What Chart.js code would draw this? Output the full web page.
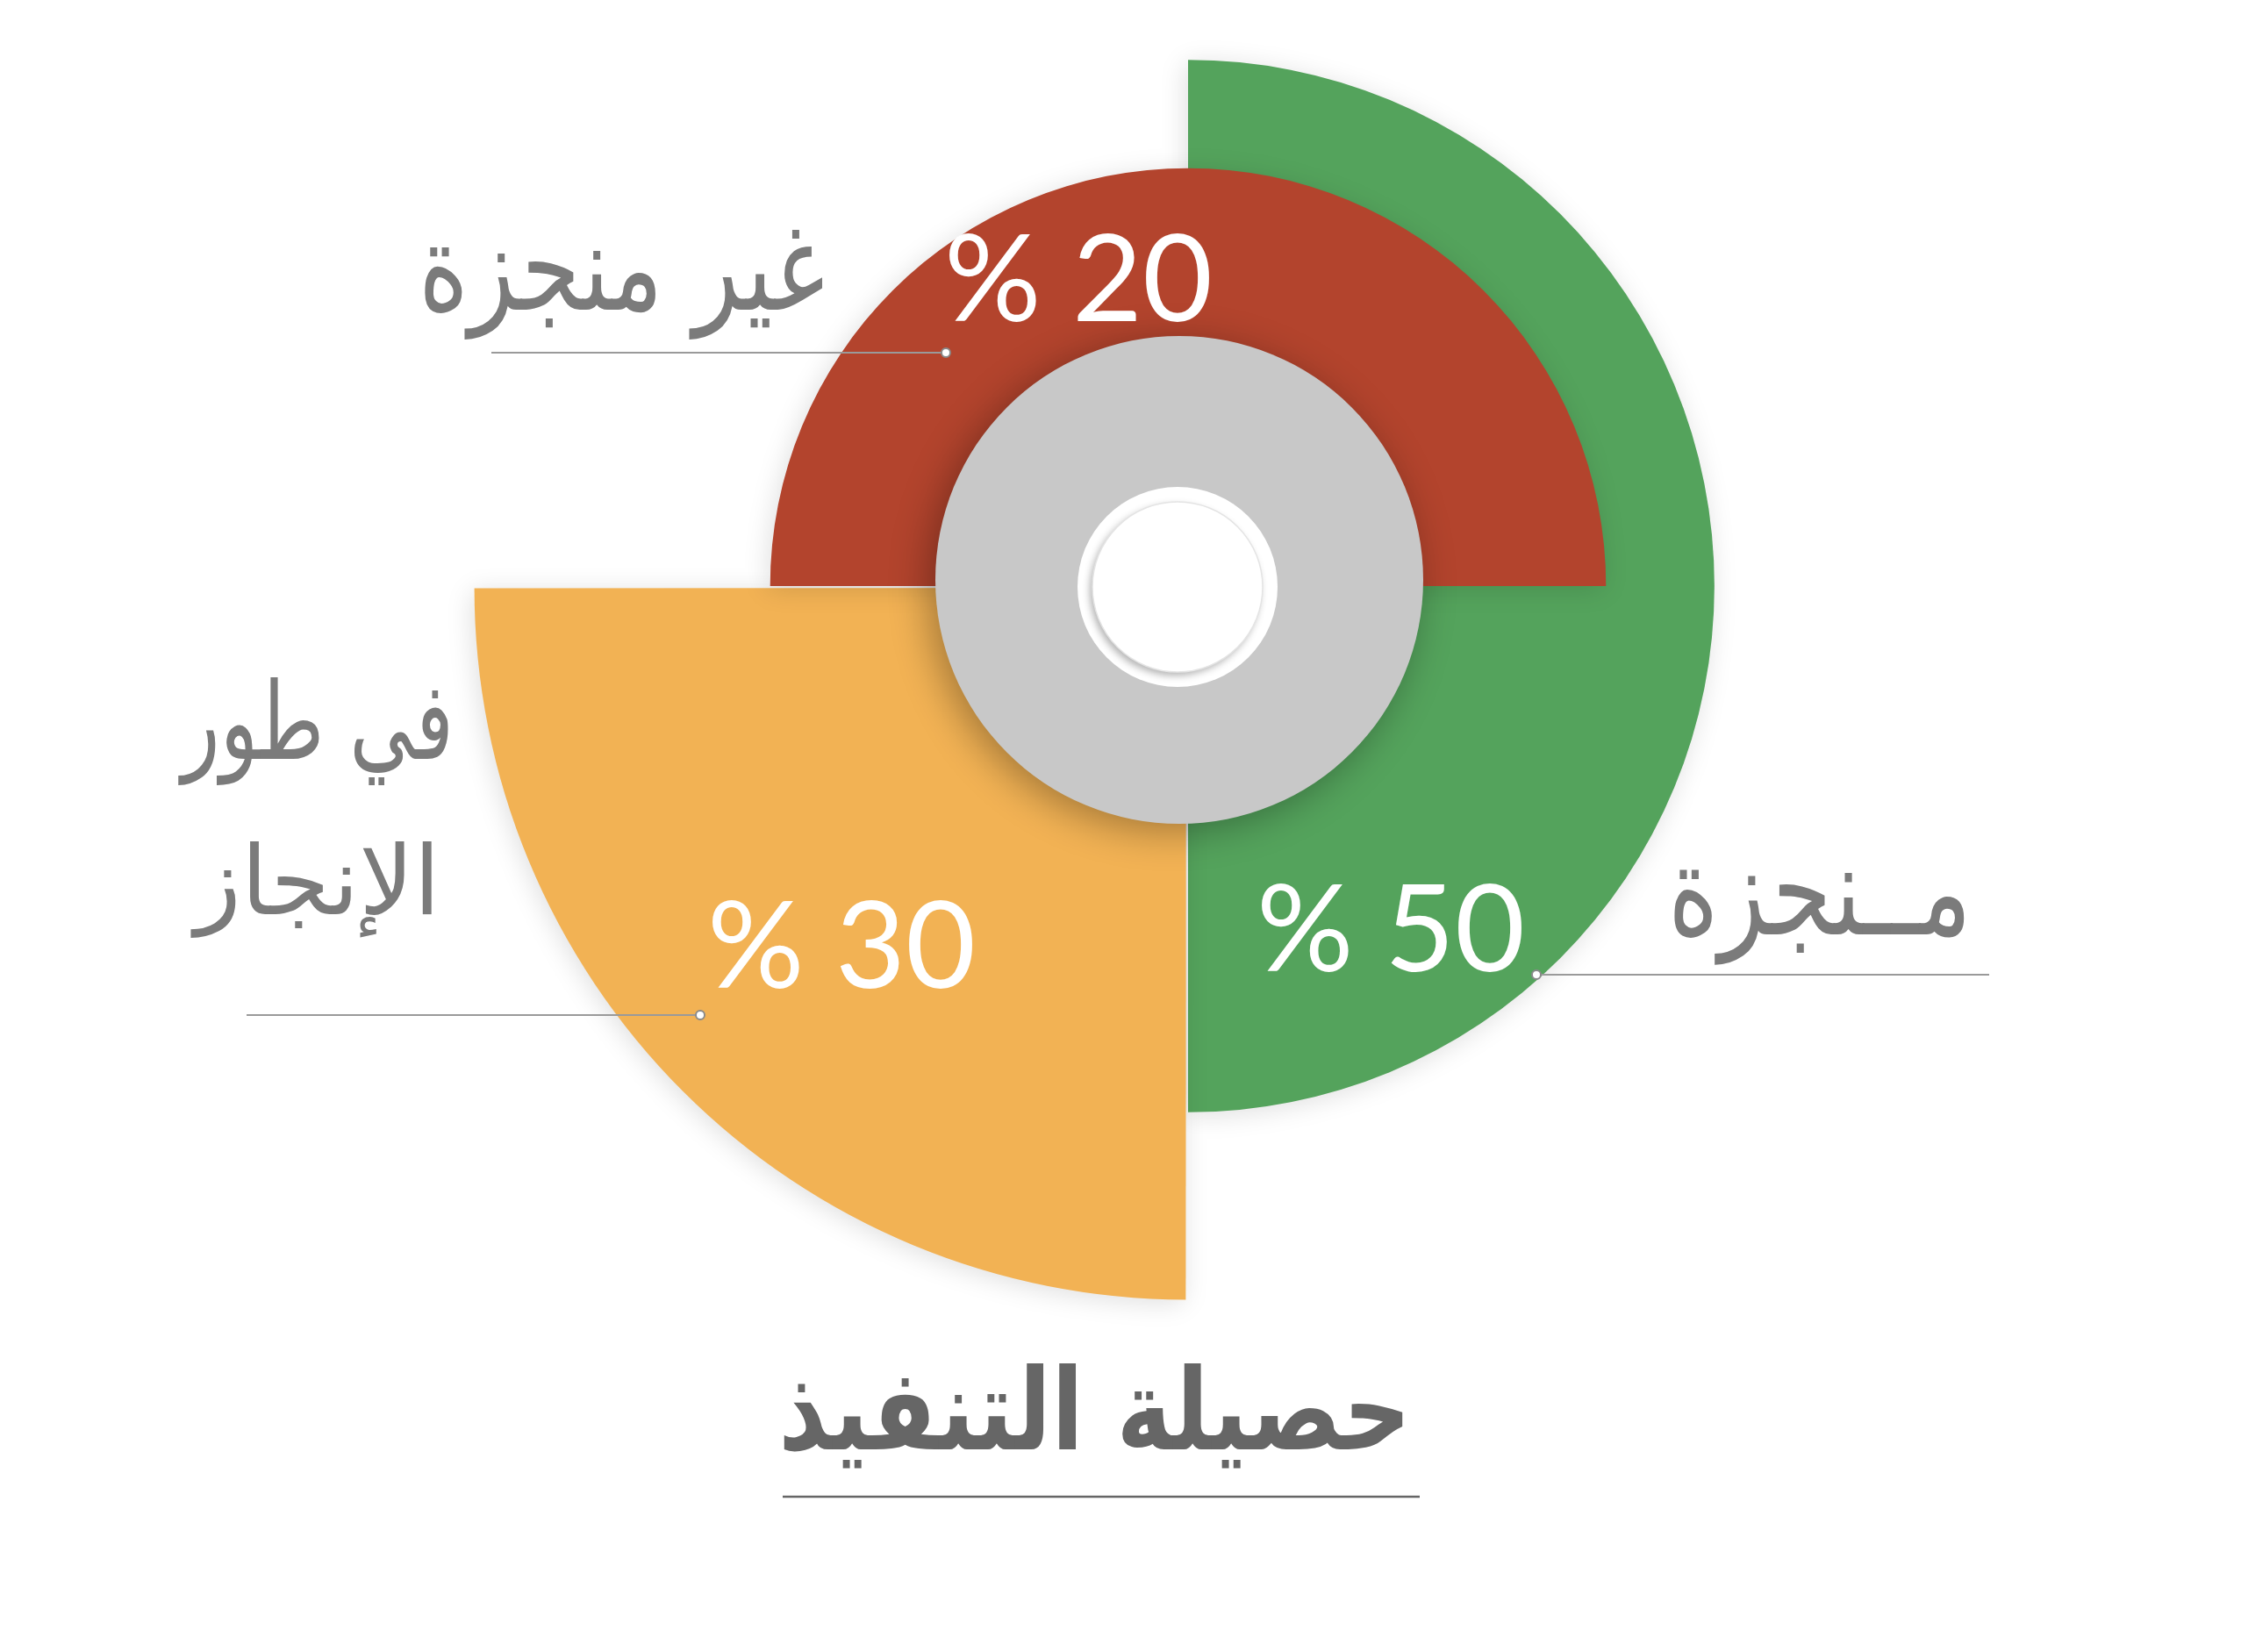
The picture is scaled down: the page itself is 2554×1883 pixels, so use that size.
<!DOCTYPE html>
<html lang="ar">
<head>
<meta charset="utf-8">
<title>حصيلة التنفيذ</title>
<script src="https://cdn.jsdelivr.net/npm/chart.js@4.4.1/dist/chart.umd.min.js"></script>
<style>
html,body{margin:0;padding:0;background:#fff;}
#wrap{position:relative;width:2554px;height:1883px;}
</style>
</head>
<body>
<div id="wrap"><canvas id="c"></canvas></div>
<script>
// ---- data ----
const categories = ['منجزة', 'في طور الإنجاز', 'غير منجزة'];
const categoryLines = [['مــنجزة'], ['في طور', 'الإنجاز'], ['غير منجزة']];
const percentValues = [50, 30, 20];
const sweepAngles = [180, 90, 180];          // degrees swept by each slice
const radialLengths = [89.8, 121.0, 71.3];   // outer radius of each slice (scale units)
const chartTitle = 'حصيلة التنفيذ';

// ---- styles ----
const sliceColors = ['#54A35C', '#F2B254', '#B3442D'];
const labelColor = '#7b7b7b';
const titleColor = '#666666';

// label layout (canvas pixels): text right edge / baseline / target width / vertical stretch
const labelLayout = [
  { lines: [{ right: 2247, base: 1065, width: 346, k: 1.3 }], line: { x1: 1751, x2: 2267, y: 1111, dot: 'left' },
    pct: { right: 1738, base: 1107 } },
  { lines: [{ right: 517, base: 865, width: 310, k: 1.35 }, { right: 502, base: 1042, width: 280, k: 1.0 }], line: { x1: 281, x2: 798, y: 1157, dot: 'right' },
    pct: { right: 1112, base: 1126 } },
  { lines: [{ right: 940, base: 353, width: 463, k: 1.27 }], line: { x1: 560, x2: 1078, y: 402, dot: 'right' },
    pct: { right: 1382, base: 366 } }
];
const titleLayout = { right: 1608, base: 1652, width: 721, k: 1.2, ulY: 1706, ulX1: 892, ulX2: 1618 };

function fitSize(ctx, text, weight, family, targetW) {
  ctx.font = weight + ' 100px ' + family;
  const w = ctx.measureText(text).width;
  return 100 * targetW / w;
}

function drawStretched(ctx, text, right, base, k) {
  ctx.save();
  ctx.translate(right, base);
  ctx.scale(1, k);
  ctx.fillText(text, 0, 0);
  ctx.restore();
}

const decor = {
  id: 'decor',
  beforeDatasetsDraw(chart) {
    const ctx = chart.ctx;
    ctx.save();
    ctx.shadowColor = 'rgba(0,0,0,0.13)';
    ctx.shadowBlur = 30;
    ctx.shadowOffsetX = -3;
    ctx.shadowOffsetY = 4;
  },
  afterDatasetsDraw(chart) {
    const ctx = chart.ctx;
    ctx.restore();
    const s = chart.scales.r;
    const cx = s.xCenter, cy = s.yCenter;

    // grey hub
    ctx.save();
    ctx.shadowColor = 'rgba(0,0,0,0.33)';
    ctx.shadowBlur = 45;
    ctx.shadowOffsetX = -8;
    ctx.shadowOffsetY = 8;
    ctx.fillStyle = '#C8C8C8';
    ctx.beginPath();
    ctx.arc(cx - 10, cy - 7, 278, 0, Math.PI * 2);
    ctx.fill();
    ctx.restore();

    // white rings
    ctx.save();
    ctx.fillStyle = '#ffffff';
    ctx.beginPath();
    ctx.arc(cx - 12, cy + 1, 114, 0, Math.PI * 2);
    ctx.fill();
    ctx.shadowColor = 'rgba(0,0,0,0.30)';
    ctx.shadowBlur = 8;
    ctx.shadowOffsetX = -3;
    ctx.shadowOffsetY = 4;
    ctx.beginPath();
    ctx.arc(cx - 12, cy + 1, 97, 0, Math.PI * 2);
    ctx.fill();
    ctx.shadowColor = 'transparent';
    ctx.strokeStyle = '#e4e4e4';
    ctx.lineWidth = 1.5;
    ctx.stroke();
    ctx.restore();

    // percentage labels
    ctx.save();
    ctx.fillStyle = '#ffffff';
    ctx.font = '400 138px Lato';
    ctx.textAlign = 'right';
    ctx.textBaseline = 'alphabetic';
    ctx.direction = 'ltr';
    percentValues.forEach((v, i) => {
      const p = labelLayout[i].pct;
      ctx.fillText('% ' + v, p.right, p.base);
    });
    ctx.restore();

    // category labels + leader lines
    ctx.save();
    categoryLines.forEach((lines, i) => {
      const L = labelLayout[i];
      ctx.fillStyle = labelColor;
      ctx.textAlign = 'right';
      ctx.textBaseline = 'alphabetic';
      ctx.direction = 'rtl';
      lines.forEach((t, j) => {
        const g = L.lines[j];
        const size = fitSize(ctx, t, '400', '"DejaVu Sans"', g.width);
        ctx.font = '400 ' + size.toFixed(1) + 'px "DejaVu Sans"';
        drawStretched(ctx, t, g.right, g.base, g.k);
      });
      const ln = L.line;
      ctx.strokeStyle = '#9a9a9a';
      ctx.lineWidth = 2;
      ctx.beginPath();
      ctx.moveTo(ln.x1, ln.y);
      ctx.lineTo(ln.x2, ln.y);
      ctx.stroke();
      const dx = ln.dot === 'left' ? ln.x1 : ln.x2;
      ctx.fillStyle = '#ffffff';
      ctx.strokeStyle = '#8a8a8a';
      ctx.lineWidth = 2;
      ctx.beginPath();
      ctx.arc(dx, ln.y, 5, 0, Math.PI * 2);
      ctx.fill();
      ctx.stroke();
    });
    ctx.restore();

    // title with underline
    ctx.save();
    ctx.fillStyle = titleColor;
    ctx.textAlign = 'right';
    ctx.textBaseline = 'alphabetic';
    ctx.direction = 'rtl';
    const ts = fitSize(ctx, chartTitle, 'bold', '"DejaVu Sans"', titleLayout.width);
    ctx.font = 'bold ' + ts.toFixed(1) + 'px "DejaVu Sans"';
    drawStretched(ctx, chartTitle, titleLayout.right, titleLayout.base, titleLayout.k);
    ctx.strokeStyle = titleColor;
    ctx.lineWidth = 2.5;
    ctx.beginPath();
    ctx.moveTo(titleLayout.ulX1, titleLayout.ulY);
    ctx.lineTo(titleLayout.ulX2, titleLayout.ulY);
    ctx.stroke();
    ctx.restore();
  }
};

new Chart(document.getElementById('c'), {
  type: 'polarArea',
  data: {
    labels: categories,
    datasets: [{
      data: radialLengths,
      backgroundColor: sliceColors,
      borderWidth: 0,
      offset: [0, 12, 0],
      angle: (c) => sweepAngles[c.dataIndex],
      clip: false
    }]
  },
  options: {
    responsive: true,
    maintainAspectRatio: false,
    animation: false,
    events: [],
    layout: { padding: { left: 686, right: 532, top: 0, bottom: 547 } },
    scales: {
      r: { display: false, min: 0, max: 100, startAngle: 0 }
    },
    plugins: {
      legend: { display: false },
      tooltip: { enabled: false },
      title: { display: false }
    }
  },
  plugins: [decor]
});
</script>
</body>
</html>
